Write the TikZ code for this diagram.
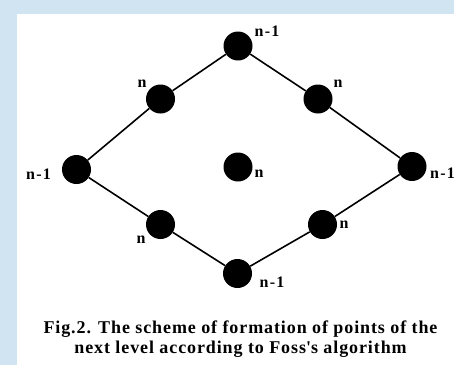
\documentclass[tikz,border=0pt]{standalone}
\usepackage{fontspec}
\setmainfont{Liberation Serif}
\usepackage{tikz}
\usetikzlibrary{positioning,calc}
\definecolor{frameblue}{RGB}{208,228,242}
\newcommand{\straightquote}{\XeTeXglyph\number\XeTeXglyphindex "quotesingle"\relax}

\begin{document}
\begin{tikzpicture}[x=1pt,y=-1pt,
    pt/.style={circle, fill=black, inner sep=0pt, minimum size=29pt},
    lbl/.style={font=\bfseries\fontsize{16}{17}\selectfont\addfontfeature{LetterSpace=8}, inner sep=0pt},
    edge/.style={line width=1.6pt, black}]
    % Frame and page
    \useasboundingbox (0,0) rectangle (454,365);
    \fill[frameblue] (0,0) rectangle (454,365);
    \fill[white] (17,14) rectangle (454,365);

    % Points of the scheme
    \node[pt] (top) at (238,46) {};
    \node[pt] (ul) at (160.5,99) {};
    \node[pt] (ur) at (318,99) {};
    \node[pt] (left) at (76.5,169.5) {};
    \node[pt] (right) at (412,166.5) {};
    \node[pt] (mid) at (238,167) {};
    \node[pt] (ll) at (160.5,224.5) {};
    \node[pt] (lr) at (322.5,224.5) {};
    \node[pt] (bot) at (237.5,273.5) {};

    % Rhombus edges
    \draw[edge] (top) -- (ul) -- (left) -- (ll) -- (bot) -- (lr) -- (right) -- (ur) -- (top);

    % Labels
    \node[lbl] (ltop) at (267,31) {n-1};
    \node[lbl] (lul) at (142,84) {n};
    \node[lbl] (lur) at (338,84) {n};
    \node[lbl] (lleft) at (38.5,174) {n-1};
    \node[lbl] (lright) at (442.5,173) {n-1};
    \node[lbl] (lmid) at (259,174) {n};
    \node[lbl] (lll) at (141,240) {n};
    \node[lbl] (llr) at (344,225) {n};
    \node[lbl] (lbot) at (272,282) {n-1};

    % Caption
    \node[font=\bfseries\fontsize{18}{20}\selectfont\addfontfeature{LetterSpace=5}, align=center, inner sep=0pt] (caption) at (240.5,339)
        {Fig.2. The scheme of formation of points of the\\next level according to Foss\straightquote s algorithm};
\end{tikzpicture}
\end{document}
